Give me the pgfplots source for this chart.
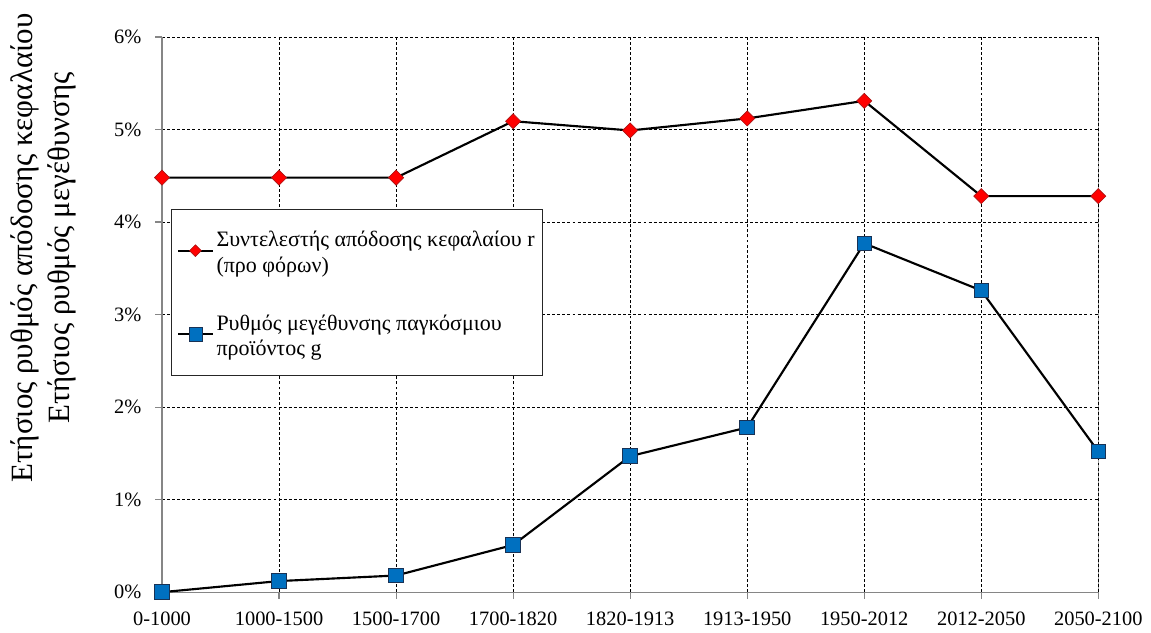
\documentclass[border=0pt]{standalone}
\usepackage{pgfplots}
\pgfplotsset{compat=1.18}
\usepackage{fontspec}
\setmainfont{Liberation Serif}
\definecolor{rred}{RGB}{255,0,0}
\definecolor{redge}{RGB}{170,20,20}
\definecolor{bblue}{RGB}{0,112,192}
\definecolor{bedge}{RGB}{25,50,85}
\definecolor{axgray}{RGB}{134,134,134}
\begin{document}
\begin{tikzpicture}
\useasboundingbox (-121.5pt,-30pt) rectangle (741.5pt,444pt);
\begin{axis}[
  at={(0pt,0pt)}, anchor=south west,
  scale only axis, width=702pt, height=416.25pt,
  xmin=0, xmax=8, ymin=0, ymax=6,
  xtick={0,...,8},
  xticklabels={0-1000,1000-1500,1500-1700,1700-1820,1820-1913,1913-1950,1950-2012,2012-2050,2050-2100},
  ytick={0,...,6},
  yticklabels={0\%,1\%,2\%,3\%,4\%,5\%,6\%},
  tick label style={font=\fontsize{15.3}{18}\selectfont, black},
  yticklabel style={xshift=-7pt},
  xticklabel style={yshift=-6pt},
  axis x line*=bottom, axis y line*=left,
  axis line style={axgray, line width=0.9pt, -},
  tick align=outside, major tick length=5pt,
  tick style={axgray, line width=0.9pt},
  grid=major,
  major grid style={black, line width=0.7pt, dash pattern=on 2.2pt off 1.6pt},
  legend style={at={(0.0096,0.690)}, anchor=north west, draw=black!85, line width=1pt,
    font=\fontsize{16.5}{19}\selectfont, inner xsep=4pt, inner ysep=12.5pt,
    row sep=26.5pt, cells={anchor=west}, nodes={inner sep=2pt, text depth=19pt}},
  legend image code/.code={\draw[mark repeat=2,mark phase=2,#1] plot coordinates {(0pt,0pt)(13pt,0pt)(26pt,0pt)};},
]
\addplot[black, line width=1.6pt, mark=square*, mark size=4pt,
  mark options={rotate=45, fill=rred, draw=redge, line width=0.5pt},
  legend image post style={mark size=3.1pt}]
  coordinates {(0,4.48) (1,4.48) (2,4.48) (3,5.09) (4,4.99) (5,5.12) (6,5.31) (7,4.28) (8,4.28)};
\addlegendentry{\begin{tabular}[t]{@{}l@{}}Συντελεστής απόδοσης κεφαλαίου r\\(προ φόρων)\end{tabular}}
\addplot[black, line width=1.6pt, mark=square*, mark size=5.5pt,
  mark options={fill=bblue, draw=bedge, line width=0.6pt},
  legend image post style={mark size=4.9pt}]
  coordinates {(0,0.00) (1,0.12) (2,0.18) (3,0.51) (4,1.47) (5,1.78) (6,3.77) (7,3.26) (8,1.52)};
\addlegendentry{\begin{tabular}[t]{@{}l@{}}Ρυθμός μεγέθυνσης παγκόσμιου\\προϊόντος g\end{tabular}}
\draw[black, line width=0.9pt] (rel axis cs:1,0) -- (rel axis cs:1,1);
\end{axis}
\node[rotate=90, anchor=base, font=\fontsize{23.2}{28}\selectfont] at (-97.5pt,258pt) {Ετήσιος ρυθμός απόδοσης κεφαλαίου};
\node[rotate=90, anchor=base, font=\fontsize{23.2}{28}\selectfont] at (-69.75pt,258pt) {Ετήσιος ρυθμός μεγέθυνσης};
\end{tikzpicture}
\end{document}
